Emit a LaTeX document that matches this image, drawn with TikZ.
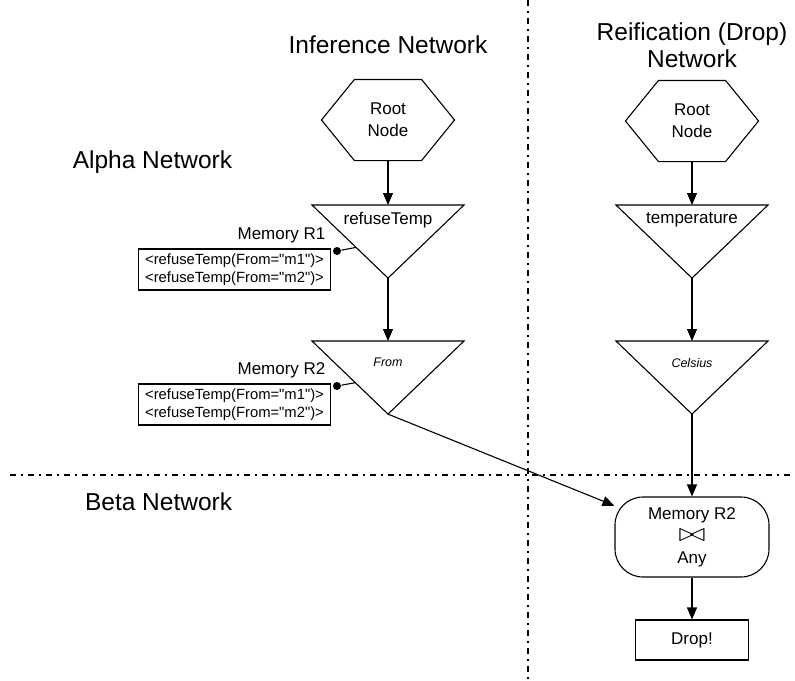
\documentclass[tikz,border=0pt]{standalone}
\usepackage{fontspec}
\usepackage{graphicx}
\setmainfont{Liberation Sans}
\usetikzlibrary{arrows.meta,calc}
\newcommand{\joinsym}{\scalebox{1.9}[1.5]{$\bowtie$}}
\newcommand{\qt}{\textquotedbl}
\tikzset{
  title/.style={font=\fontsize{24.5}{27}\selectfont, align=center},
  lbl/.style={font=\fontsize{17}{22}\selectfont, align=center},
  small/.style={font=\fontsize{12.5}{15}\selectfont\itshape},
  hexa/.style={lbl, minimum width=132pt, minimum height=80pt, inner sep=0pt},
  tri/.style={minimum width=151pt, minimum height=72pt, inner sep=0pt, anchor=north},
  membox/.style={draw, font=\fontsize{14.8}{18}\selectfont, align=left, inner xsep=7pt, minimum height=41pt},
  dot/.style={circle, fill, inner sep=0pt, minimum size=8pt},
  joinbox/.style={draw, lbl, rounded corners=28pt, minimum width=154pt, minimum height=80pt},
  dropbox/.style={draw, lbl, minimum width=113pt, minimum height=40pt},
  arr/.style={-{Triangle[length=12pt,width=10pt]}},
  divider/.style={dash pattern=on 6pt off 5pt on 1.5pt off 5.5pt}
}
\begin{document}
\begin{tikzpicture}[x=1pt,y=-1pt,line width=1.1pt]
\useasboundingbox (0,0) rectangle (795,680);
% dividers
\draw[divider] (528,0) -- (528,680);
\draw[divider] (10,475) -- (795,475);
% titles
\node[title] (infT) at (388,45) {Inference Network};
\node[title] (reifT) at (692,45) {Reification (Drop)\\Network};
\node[title, anchor=east] (alphaT) at (236,162) {Alpha Network};
\node[title, anchor=east] (betaT) at (236,502) {Beta Network};

% inference side
\node[hexa] (rootL) at (388,120) {Root\\Node};
\draw (rootL.west) -- ([xshift=33pt]rootL.north west) -- ([xshift=-33pt]rootL.north east)
  -- (rootL.east) -- ([xshift=-33pt]rootL.south east) -- ([xshift=33pt]rootL.south west) -- cycle;
\node[tri] (refT) at (388,205) {};
\draw (refT.north west) -- (refT.north east) -- (refT.south) -- cycle;
\node[lbl] (refL) at ([yshift=-15pt]refT.north) {refuseTemp};
\node[tri] (fromT) at (388,341) {};
\draw (fromT.north west) -- (fromT.north east) -- (fromT.south) -- cycle;
\node[small] (fromL) at ([yshift=-21pt]fromT.north) {From};

% memories
\node[membox] (mem1) at (234.5,269.5) {<refuseTemp(From=\qt m1\qt)>\\<refuseTemp(From=\qt m2\qt)>};
\node[lbl, anchor=south east, inner sep=0pt] (mem1L) at (326,244) {Memory R1};
\node[dot] (dot1) at (337,251) {};
\coordinate (edge1) at ($(refT.north west)!0.58!(refT.south)$);
\draw (dot1) -- (edge1);
\node[membox] (mem2) at (234.5,404.5) {<refuseTemp(From=\qt m1\qt)>\\<refuseTemp(From=\qt m2\qt)>};
\node[lbl, anchor=south east, inner sep=0pt] (mem2L) at (326,379) {Memory R2};
\node[dot] (dot2) at (337,386) {};
\coordinate (edge2) at ($(fromT.north west)!0.57!(fromT.south)$);
\draw (dot2) -- (edge2);

% reification side
\node[hexa] (rootR) at (692,121) {Root\\Node};
\draw (rootR.west) -- ([xshift=33pt]rootR.north west) -- ([xshift=-33pt]rootR.north east)
  -- (rootR.east) -- ([xshift=-33pt]rootR.south east) -- ([xshift=33pt]rootR.south west) -- cycle;
\node[tri] (tempT) at (692,205) {};
\draw (tempT.north west) -- (tempT.north east) -- (tempT.south) -- cycle;
\node[lbl] (tempL) at ([yshift=-15pt]tempT.north) {temperature};
\node[tri] (celT) at (692,341) {};
\draw (celT.north west) -- (celT.north east) -- (celT.south) -- cycle;
\node[small] (celL) at ([yshift=-22pt]celT.north) {Celsius};

% beta
\node[joinbox] (joinR) at (692,537) {Memory R2\\\joinsym\\Any};
\node[dropbox] (drop) at (692,640) {Drop!};

% arrows
\draw[arr] (rootL.south) -- (refT.north);
\draw[arr] (refT.south) -- (fromT.north);
\draw[arr] (fromT.south) -- (joinR);
\draw[arr] (rootR.south) -- (tempT.north);
\draw[arr] (tempT.south) -- (celT.north);
\draw[arr] (celT.south) -- (joinR.north);
\draw[arr] (joinR.south) -- (drop.north);
\end{tikzpicture}
\end{document}
